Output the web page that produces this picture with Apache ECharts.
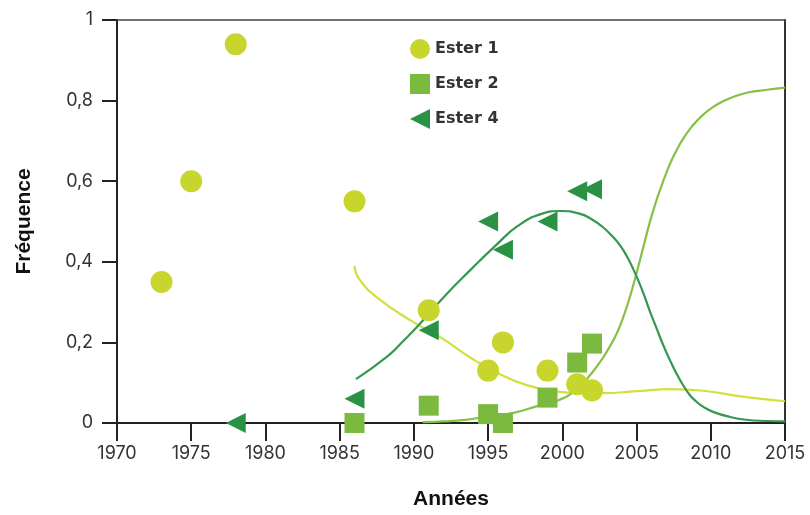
<!DOCTYPE html>
<html>
<head>
<meta charset="utf-8">
<script src="https://cdn.jsdelivr.net/npm/echarts@6/dist/echarts.min.js"></script>
<style>html,body{margin:0;padding:0;background:#fff;}#c{width:810px;height:515px;}</style>
</head>
<body>
<div id="c"></div>
<script>
// Scatter observations
const ester1Years = [1973, 1975, 1978, 1986, 1991, 1995, 1996, 1999, 2001, 2002];
const ester1Freq  = [0.35, 0.60, 0.94, 0.55, 0.28, 0.13, 0.20, 0.13, 0.096, 0.081];
const ester2Years = [1986, 1991, 1995, 1996, 1999, 2001, 2002];
const ester2Freq  = [0.0, 0.043, 0.022, 0.0, 0.063, 0.15, 0.197];
const ester4Years = [1978, 1986, 1991, 1995, 1996, 1999, 2001, 2002];
const ester4Freq  = [0.0, 0.06, 0.23, 0.50, 0.43, 0.50, 0.575, 0.58];

// Fitted curves
const curve1Years = [1986.0, 1986.3, 1987.6, 1989.8, 1991.9, 1993.9, 1995.9, 1997.6, 1999.4, 2001.2, 2002.7, 2005.0, 2007.3, 2009.5, 2012.4, 2015];
const curve1Freq  = [0.39, 0.358, 0.309, 0.254, 0.21, 0.16, 0.119, 0.094, 0.079, 0.074, 0.074, 0.079, 0.084, 0.080, 0.064, 0.054];
const curve2Years = [1990.6, 1992.0, 1993.3, 1995.1, 1996.7, 1998.3, 1999.7, 2000.9, 2001.7, 2002.7, 2003.15, 2003.6, 2004.0, 2004.4, 2004.8, 2005.2, 2005.55, 2005.9, 2006.25, 2006.6, 2006.95, 2007.3, 2007.7, 2008.1, 2008.6, 2009.1, 2009.55, 2010.0, 2010.6, 2011.5, 2012.5, 2013.8, 2015];
const curve2Freq  = [0.002, 0.004, 0.007, 0.017, 0.025, 0.042, 0.056, 0.081, 0.111, 0.16, 0.187, 0.217, 0.252, 0.295, 0.345, 0.40, 0.45, 0.499, 0.542, 0.58, 0.615, 0.647, 0.677, 0.703, 0.73, 0.751, 0.767, 0.78, 0.794, 0.809, 0.82, 0.827, 0.832];
const curve4Years = [1986.1, 1988.3, 1989.3, 1990.3, 1992.1, 1993.9, 1995.5, 1997.0, 1998.6, 1999.9, 2001.2, 2002.0, 2002.7, 2003.3, 2003.9, 2004.4, 2004.8, 2005.1, 2005.5, 2005.9, 2006.35, 2006.8, 2007.25, 2007.7, 2008.15, 2008.6, 2009.0, 2009.5, 2010.2, 2011.3, 2012.4, 2013.7, 2015];
const curve4Freq  = [0.109, 0.168, 0.204, 0.242, 0.316, 0.383, 0.44, 0.489, 0.519, 0.526, 0.519, 0.505, 0.487, 0.466, 0.44, 0.41, 0.38, 0.355, 0.318, 0.277, 0.235, 0.193, 0.156, 0.122, 0.093, 0.069, 0.054, 0.04, 0.027, 0.015, 0.008, 0.005, 0.004];

const seriesNames = ['Ester 1', 'Ester 2', 'Ester 4'];
const xTicks = { min: 1970, max: 2015, interval: 5 };
const yTicks = { min: 0, max: 1, interval: 0.2 };

const zip = (a, b) => a.map((v, i) => [v, b[i]]);

const chart = echarts.init(document.getElementById('c'), null, { renderer: 'canvas' });
const labelFont = { fontFamily: 'Inter', fontSize: 18, color: '#333' };
const nameFont = { fontFamily: 'Liberation Sans', fontWeight: 'bold', fontSize: 21, color: '#111' };

chart.setOption({
  animation: false,
  backgroundColor: '#fff',
  grid: { left: 117, right: 25, top: 20, bottom: 90 },
  legend: {
    data: [
      { name: seriesNames[0], icon: 'circle' },
      { name: seriesNames[1], icon: 'rect' },
      { name: seriesNames[2], icon: 'path://M0,10 L20,0 L20,20 Z' }
    ],
    orient: 'vertical',
    left: 405,
    top: 34,
    itemWidth: 20,
    itemHeight: 20,
    itemGap: 15,
    textStyle: { fontFamily: 'DejaVu Sans', fontWeight: 'bold', fontSize: 16, color: '#333' }
  },
  xAxis: [{
    type: 'value',
    min: xTicks.min, max: xTicks.max, interval: xTicks.interval,
    name: 'Années', nameLocation: 'middle', nameGap: 66,
    nameTextStyle: nameFont,
    axisLine: { show: true, onZero: false, lineStyle: { color: '#222', width: 2 } },
    axisTick: { show: true, length: 18, inside: false, lineStyle: { color: '#222', width: 2 } },
    axisLabel: Object.assign({ margin: 22, formatter: v => String(v) }, labelFont),
    splitLine: { show: false }
  }, {
    type: 'value', position: 'top',
    min: xTicks.min, max: xTicks.max,
    axisLine: { show: true, onZero: false, lineStyle: { color: '#444', width: 1.5 } },
    axisTick: { show: false }, axisLabel: { show: false }, splitLine: { show: false }
  }],
  yAxis: [{
    type: 'value',
    min: yTicks.min, max: yTicks.max, interval: yTicks.interval,
    name: 'Fréquence', nameLocation: 'middle', nameGap: 82, nameRotate: 90,
    nameTextStyle: nameFont,
    axisLine: { show: true, onZero: false, lineStyle: { color: '#222', width: 2 } },
    axisTick: { show: true, length: 15, inside: false, lineStyle: { color: '#222', width: 2 } },
    axisLabel: Object.assign({ margin: 24, formatter: v => String(Math.round(v * 10) / 10).replace('.', ',') }, labelFont),
    splitLine: { show: false }
  }, {
    type: 'value', position: 'right',
    min: yTicks.min, max: yTicks.max,
    axisLine: { show: true, onZero: false, lineStyle: { color: '#333', width: 2 } },
    axisTick: { show: false }, axisLabel: { show: false }, splitLine: { show: false }
  }],
  series: [
    { name: 'courbe 1', type: 'line', data: zip(curve1Years, curve1Freq), smooth: 0.5, showSymbol: false, z: 2,
      lineStyle: { color: '#d2df3e', width: 2.2 } },
    { name: 'courbe 2', type: 'line', data: zip(curve2Years, curve2Freq), smooth: 0.5, showSymbol: false, z: 2,
      lineStyle: { color: '#86c046', width: 2.2 } },
    { name: 'courbe 4', type: 'line', data: zip(curve4Years, curve4Freq), smooth: 0.5, showSymbol: false, z: 2,
      lineStyle: { color: '#359750', width: 2.2 } },
    { name: 'Ester 1', type: 'scatter', data: zip(ester1Years, ester1Freq), symbol: 'circle', symbolSize: 22, z: 3,
      itemStyle: { color: '#c8d52c', opacity: 1 } },
    { name: 'Ester 2', type: 'scatter', data: zip(ester2Years, ester2Freq), symbol: 'rect', symbolSize: 20, z: 3,
      itemStyle: { color: '#7cba3f', opacity: 1 } },
    { name: 'Ester 4', type: 'scatter', data: zip(ester4Years, ester4Freq), symbol: 'triangle', symbolRotate: 90, symbolSize: [20, 20], z: 3,
      itemStyle: { color: '#2a9245', opacity: 1 } }
  ]
});
</script>
</body>
</html>
